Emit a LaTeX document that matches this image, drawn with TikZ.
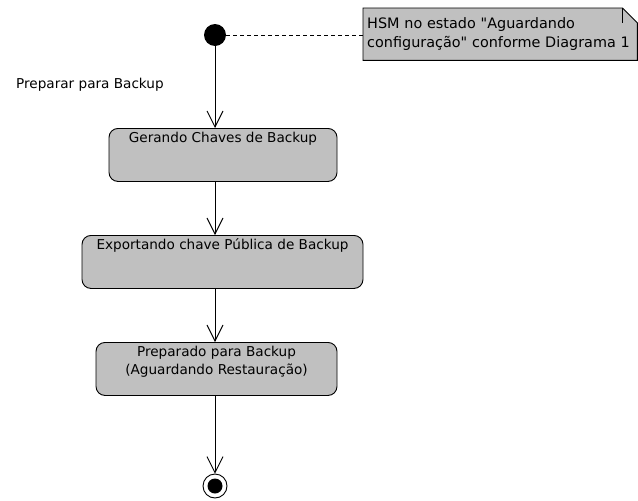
\documentclass[tikz,border=0pt]{standalone}
\usepackage{fontspec}
\setmainfont{DejaVu Sans}
\usetikzlibrary{arrows.meta,calc,backgrounds}
\definecolor{umlcinza}{RGB}{192,192,192}
\tikzset{
  estado/.style={draw, fill=umlcinza, line width=0.9pt, rounded corners=9pt,
    anchor=north, align=center, inner sep=3pt, minimum height=53pt,
    font=\fontsize{13.6}{18}\selectfont},
  transicao/.style={line width=0.9pt, -{Straight Barb[length=16pt,width=16pt,line width=0.9pt]}},
  texto/.style={font=\fontsize{13.6}{18.5}\selectfont}
}
\begin{document}
\begin{tikzpicture}[x=1pt,y=-1pt]
  \useasboundingbox (0,0) rectangle (638,501);
  \node[circle, fill=black, inner sep=0pt, minimum size=22pt] (inicio) at (215,35) {};
  \node[texto, anchor=base west, inner sep=0pt] (preparar) at (16,88) {Preparar para Backup};
  \node[estado, minimum width=228pt, text height=11.5pt, text depth=35.5pt] (gerando) at (223,128) {Gerando Chaves de Backup};
  \node[estado, minimum width=281pt, text height=11.5pt, text depth=35.5pt] (exportando) at (222.5,235) {Exportando chave Pública de Backup};
  \node[estado, minimum width=241pt, text height=29pt, text depth=18pt] (preparado) at (216.5,342) {Preparado para Backup\\(Aguardando Restauração)};
  \node[circle, draw, line width=0.9pt, fill=white, inner sep=0pt, minimum size=24pt] (fim) at (215,486) {};
  \node[circle, fill=black, inner sep=0pt, minimum size=15pt] (fimcentro) at (fim) {};
  % nota
  \node[texto, font=\fontsize{14.4}{18.8}\selectfont, anchor=north west, align=left, inner xsep=4pt, inner ysep=0pt,
    text width=266pt, text height=20pt, text depth=32pt] (nota) at (363,8)
    {\mbox{HSM no estado \textquotedbl Aguardando}\\\mbox{configuração\textquotedbl{} conforme Diagrama 1}};
  \begin{scope}[on background layer]
    \fill[umlcinza] (nota.north west) -- ($(nota.north east)+(-15,0)$) -- ($(nota.north east)+(0,15)$)
      -- (nota.south east) -- (nota.south west) -- cycle;
  \end{scope}
  \draw[line width=0.9pt] (nota.north west) -- ($(nota.north east)+(-15,0)$) -- ($(nota.north east)+(0,15)$)
    -- (nota.south east) -- (nota.south west) -- cycle;
  \draw[line width=0.7pt] ($(nota.north east)+(-15,0)$) -- ($(nota.north east)+(-15,15)$);
  \draw[dashed, line width=0.9pt, dash pattern=on 4pt off 3pt] (inicio) -- (inicio -| nota.west);
  % transicoes
  \draw[transicao] (inicio) -- (inicio |- gerando.north);
  \draw[transicao] (inicio |- gerando.south) -- (inicio |- exportando.north);
  \draw[transicao] (inicio |- exportando.south) -- (inicio |- preparado.north);
  \draw[transicao] (inicio |- preparado.south) -- (fim.north);
\end{tikzpicture}
\end{document}
